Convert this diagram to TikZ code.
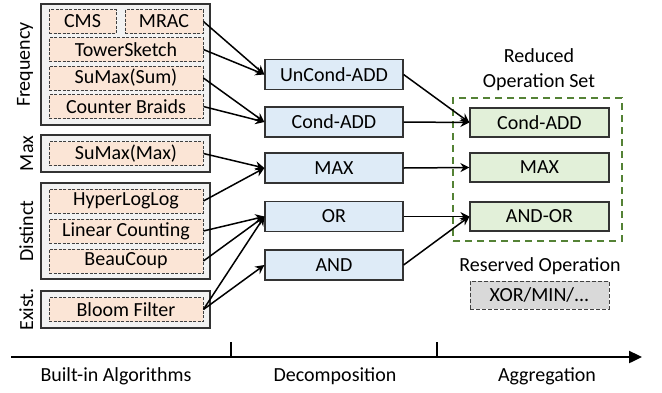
\documentclass[tikz,border=0pt]{standalone}
\usepackage{fontspec}
\setmainfont{Carlito}
\usetikzlibrary{arrows.meta}
\definecolor{peach}{HTML}{FBE5D6}
\definecolor{opblue}{HTML}{DEEBF7}
\definecolor{opgreen}{HTML}{E2F0D9}
\definecolor{framegreen}{HTML}{548235}
\definecolor{grpgray}{HTML}{F2F2F2}
\definecolor{resgray}{HTML}{D9D9D9}
\begin{document}
\begin{tikzpicture}[x=1pt,y=-1pt,>={Stealth[length=9pt,width=9pt]},
    font=\fontsize{20}{25}\selectfont,
    grp/.style={draw=black!80,fill=grpgray,line width=1.2pt,inner sep=0pt},
    algo/.style={draw=black!75,fill=peach,line width=0.8pt,dash pattern=on 3pt off 1.5pt,inner sep=0pt,minimum height=24pt},
    op/.style={draw=black!80,fill=opblue,line width=1.2pt,inner sep=0pt,minimum width=138pt,minimum height=30pt},
    red/.style={draw=black!80,fill=opgreen,line width=1.2pt,inner sep=0pt,minimum width=139pt,minimum height=29pt},
    side/.style={rotate=90,anchor=south,inner sep=0pt},
    link/.style={->,line width=1.5pt}]
\useasboundingbox (0,0) rectangle (662,392);
% built-in algorithms
\node[grp,minimum width=169pt,minimum height=121pt](freq) at (125.5,64.5){};
\node[grp,minimum width=169pt,minimum height=37pt](max) at (125.5,153.5){};
\node[grp,minimum width=169pt,minimum height=96pt](dist) at (125.5,231){};
\node[grp,minimum width=169pt,minimum height=37pt](exist) at (125.5,309.5){};
\node[side](lfreq) at ([xshift=-7pt]freq.west){Frequency};
\node[side](lmax) at ([xshift=-7pt]max.west){Max};
\node[side](ldist) at ([xshift=-7pt]dist.west){Distinct};
\node[side](lexist) at ([xshift=-7pt]exist.west){Exist.};
\node[algo,minimum width=67pt](cms) at (82.5,21.5){CMS};
\node[algo,minimum width=78pt](mrac) at (164,21.5){MRAC};
\node[algo,minimum width=154pt](tower) at (126,49.5){TowerSketch};
\node[algo,minimum width=154pt](sumsum) at (126,78){SuMax(Sum)};
\node[algo,minimum width=154pt](braids) at (126,106.5){Counter Braids};
\node[algo,minimum width=154pt](summax) at (126,153.5){SuMax(Max)};
\node[algo,minimum width=154pt](hll) at (126,201){HyperLogLog};
\node[algo,minimum width=154pt](lc) at (126,231){Linear Counting};
\node[algo,minimum width=154pt](beau) at (126,261){BeauCoup};
\node[algo,minimum width=154pt](bloom) at (126,309.5){Bloom Filter};
% decomposition
\node[op](uncond) at (334,74.5){UnCond-ADD};
\node[op](cond) at (334,122){Cond-ADD};
\node[op](opmax) at (334,168){MAX};
\node[op](opor) at (334,216.5){OR};
\node[op](opand) at (334,265){AND};
% aggregation
\node[draw=framegreen,line width=1.5pt,dash pattern=on 7pt off 5pt,minimum width=169pt,minimum height=143pt,inner sep=0pt](rset) at (537.5,169.5){};
\node[align=center](lrset) at (539,69.5){Reduced\\Operation Set};
\node[red](rcond) at (539.5,122.5){Cond-ADD};
\node[red](rmax) at (539.5,167.5){MAX};
\node[red](randor) at (539.5,216.5){AND-OR};
\node(lres) at (540,266){Reserved Operation};
\node[draw=black!75,fill=resgray,line width=1pt,dash pattern=on 4pt off 2pt,inner sep=0pt,minimum width=139pt,minimum height=28pt](xor) at (539.5,295){XOR/MIN/...};
% links
\draw[link](mrac.east)--(uncond.west);
\draw[link](tower.east)--(uncond.west);
\draw[link](sumsum.east)--(cond.west);
\draw[link](braids.east)--(cond.west);
\draw[link](summax.east)--(opmax.west);
\draw[link](hll.east)--(opmax.west);
\draw[link](lc.east)--(opor.west);
\draw[link](beau.east)--(opor.west);
\draw[link](bloom.east)--(opor.west);
\draw[link](bloom.east)--(opand.west);
\draw[link](uncond.east)--(rcond.west);
\draw[link](cond.east)--(rcond.west);
\draw[link](opmax.east)--(rmax.west);
\draw[link](opor.east)--(randor.west);
\draw[link](opand.east)--(randor.west);
% stages
\coordinate(a0) at (11,357);
\coordinate(a1) at (642,357);
\coordinate(t1) at (231,357);
\coordinate(t2) at (437,357);
\draw[line width=2.4pt,-{Triangle[length=13pt,width=12pt]}](a0)--(a1);
\draw[line width=1.4pt](t1)--++(0,-15);
\draw[line width=1.4pt](t2)--++(0,-15);
\node(s1) at (116,376){Built-in Algorithms};
\node(s2) at (335,376){Decomposition};
\node(s3) at (547,376){Aggregation};
\end{tikzpicture}
\end{document}
